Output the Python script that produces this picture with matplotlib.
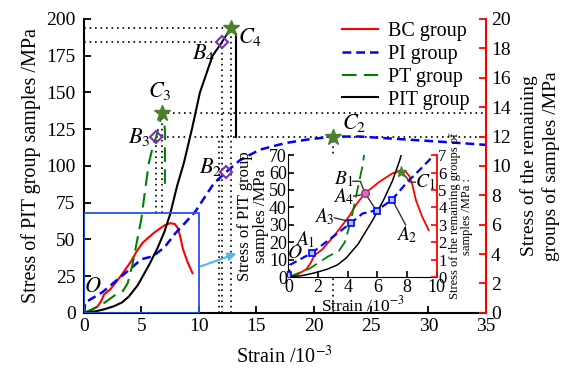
import numpy as np
import matplotlib
matplotlib.use('Agg')
import matplotlib.pyplot as plt
from matplotlib.patches import Rectangle

plt.rcParams['font.family'] = ['Liberation Serif', 'DejaVu Serif']
plt.rcParams['mathtext.fontset'] = 'stix'

# curves, all in PIT-axis units (MPa, remaining groups x10)
bc_x = [0, 0.6, 1.2, 1.5, 1.75, 2.3, 3.2, 4.1, 4.6, 5.15, 6.1, 7.0, 7.5, 7.9, 8.15, 8.35, 8.6, 9.0, 9.45]
bc_y = [0, 1.5, 4.5, 8, 12.5, 16, 25, 35, 42, 48, 54.5, 59.5, 61, 60.5, 58, 53, 44, 35, 27]

pi_x = [0, 0.05, 0.1, 1.6, 2.9, 4.2, 5.0, 6.0, 7.0, 8.0, 8.9, 9.7, 11.3, 12.4, 13.6, 15.3,
        17.5, 19.5, 21.7, 24, 27, 30, 32.7, 35]
pi_y = [0, 2, 7, 14, 22.5, 31, 36.5, 38.5, 44.5, 54.5, 62, 69, 88, 96, 104, 111,
        115.5, 118, 120, 120, 118.5, 117, 115.6, 114.3]

pt_x = [0, 1.45, 2.7, 3.4, 3.8, 4.2, 4.6, 5.0, 5.3, 5.65, 6.0, 6.3, 6.8, 7.0, 7.05, 7.05]
pt_y = [0, 5, 12, 15, 20, 32, 48, 64, 82, 102, 113, 120, 136, 128, 125, 84]

pit_x = [0, 1, 1.8, 2.6, 3.3, 3.9, 4.7, 5.7, 6.4, 7.0, 7.5, 8.1, 8.7, 9.4, 10.1, 11.2, 12.0, 12.8]
pit_y = [0, 1, 2.5, 4.5, 7, 11, 19, 33, 44, 55, 67, 86, 102, 125, 150, 175, 184, 194]
pit_drop_x = [13.2, 13.2]
pit_drop_y = [190, 120]

# feature points
C4 = (12.8, 194); B4 = (12.0, 184)
C3 = (6.8, 136); B3 = (6.3, 120)
B2 = (12.4, 96); C2 = (21.7, 120)

# inset points
sq_x = [0, 1.62, 4.2, 5.98, 7.0]
sq_y = [1.1, 14, 30.8, 37.9, 44.2]
A4 = (5.15, 48.3)
C1 = (7.62, 60.5)

red = '#ff0000'
blue = '#0000ff'
green = '#008000'
star_c = '#4d7f2e'
purple = '#7b2fb5'

fig = plt.figure(figsize=(5.71, 3.72), dpi=100)
ax = fig.add_axes([0.147, 0.159, 0.704, 0.790])

dot = dict(color='black', lw=1.2, dashes=(1, 2.3))
# dotted guide lines
ax.plot([0, C4[0]], [C4[1], C4[1]], **dot)
ax.plot([0, B4[0]], [B4[1], B4[1]], **dot)
ax.plot([C3[0], 35], [C3[1], C3[1]], **dot)
ax.plot([B3[0], 35], [B3[1], B3[1]], **dot)
ax.plot([C4[0], C4[0]], [0, C4[1]], **dot)
ax.plot([B4[0], B4[0]], [0, B4[1]], **dot)
ax.plot([11.8, 11.8], [0, 120], **dot)
ax.plot([B3[0], B3[0]], [68, B3[1]], **dot)
ax.plot([C3[0], C3[0]], [68, C3[1]], **dot)
ax.plot([C2[0], C2[0]], [0, C2[1]], **dot)

ax.plot(bc_x, bc_y, color=red, lw=1.5, label='BC group')
ax.plot(pi_x, pi_y, color=blue, lw=1.8, dashes=(3.5, 2.0), label='PI group')
ax.plot(pt_x, pt_y, color=green, lw=1.5, dashes=(7, 3.5), label='PT group')
ax.plot(pit_x, pit_y, color='black', lw=1.5, label='PIT group')
ax.plot(pit_drop_x, pit_drop_y, color='black', lw=1.5)

for p in [C4, C3, C2]:
    ax.plot(*p, marker='*', ms=12, color=star_c, mec=star_c, zorder=5)
for p in [B4, B3, B2]:
    ax.plot(*p, marker='D', ms=6.5, mfc='none', mec=purple, mew=1.5, zorder=5)

lab = dict(fontsize=16, ha='center', va='center')
ax.text(14.5, 188, r'$C_4$', **lab)
ax.text(10.4, 177, r'$B_4$', **lab)
ax.text(6.6, 151, r'$C_3$', **lab)
ax.text(4.8, 120, r'$B_3$', **lab)
ax.text(11.0, 99, r'$B_2$', **lab)
ax.text(23.5, 129, r'$C_2$', **lab)
ax.text(0.8, 17, r'$O$', **lab)

ax.add_patch(Rectangle((0, 0), 10, 68, fill=False, ec='#2a50e8', lw=1.3, zorder=6))
ax.annotate('', xy=(13.5, 41), xytext=(9.95, 31),
            arrowprops=dict(arrowstyle='-|>', color='#55b4f2', lw=1.5, mutation_scale=12))

ax.set_xlim(0, 35)
ax.set_ylim(0, 200)
ax.set_xticks(np.arange(0, 36, 5))
ax.set_yticks(np.arange(0, 201, 25))
ax.tick_params(direction='in', labelsize=14, length=5, width=1.3)
ax.tick_params(axis='y', pad=6)
ax.spines['top'].set_visible(False)
ax.spines['right'].set_visible(False)
for s in ['left', 'bottom']:
    ax.spines[s].set_linewidth(1.5)
ax.set_xlabel('Strain /10$^{-3}$', fontsize=14.5, labelpad=8)
ax.set_ylabel('Stress of PIT group samples /MPa', fontsize=14.5, labelpad=4)

ax.legend(loc='upper right', bbox_to_anchor=(0.99, 1.03), frameon=False, fontsize=14.5,
          handlelength=1.8, handletextpad=0.5, labelspacing=0.18, borderaxespad=0.2)

axr = ax.twinx()
axr.set_ylim(0, 20)
axr.set_yticks(np.arange(0, 21, 2))
axr.tick_params(direction='in', labelsize=14, length=5, width=1.3, color=red)
for s in ['top', 'left', 'bottom']:
    axr.spines[s].set_visible(False)
axr.spines['right'].set_color(red)
axr.spines['right'].set_linewidth(1.5)
axr.set_ylabel('Stress of the remaining\ngroups of samples /MPa', fontsize=14, labelpad=7,
               linespacing=1.3)

# inset
ins = fig.add_axes([0.505, 0.255, 0.260, 0.328])
ins.set_zorder(10)
ins.set_facecolor('white')
ins.plot(bc_x, bc_y, color=red, lw=1.3)
ins.plot(pi_x, pi_y, color=blue, lw=1.6, dashes=(3.5, 2.0))
ins.plot(pt_x, pt_y, color=green, lw=1.3, dashes=(7, 3.5))
ins.plot(pit_x, pit_y, color='black', lw=1.1)
ins.plot(sq_x, sq_y, ls='none', marker='s', ms=5, mfc='#b0c8ff', mec=blue, mew=1.2, zorder=5)
ins.plot(*A4, marker='o', ms=5.5, mfc='#d070b0', mec='#a0308a', mew=1, zorder=5)
ins.plot(*C1, marker='*', ms=8, color=star_c, zorder=5)

lead = dict(color='#333333', lw=1)
ins.plot([3.1, 4.1], [34, 32], **lead)
ins.plot([4.4, 5.15], [46.5, 47.5], **lead)
ins.plot([4.35, 4.85, 5.15], [55, 55, 48.3], **lead)
ins.plot([5.15, 5.95], [48.3, 38], **lead)
ins.plot([7.9, 7.05], [30, 43.5], **lead)
ins.plot([7.7, 8.2, 8.55], [59.8, 54.5, 54.5], **lead)

il = dict(fontsize=14, ha='center', va='center')
ins.text(0.45, 13.5, r'$O$', **il)
ins.text(1.1, 21.5, r'$A_1$', **il)
ins.text(2.4, 34.5, r'$A_3$', **il)
ins.text(3.7, 46, r'$A_4$', **il)
ins.text(3.75, 56, r'$B_1$', **il)
ins.text(8.0, 24.5, r'$A_2$', **il)
ins.text(9.25, 54.5, r'$C_1$', **il)

ins.set_xlim(0, 10)
ins.set_ylim(0, 70)
ins.set_xticks(np.arange(0, 11, 2))
ins.set_yticks(np.arange(0, 71, 10))
ins.tick_params(direction='in', labelsize=13, length=4, width=1.2, pad=1)
ins.spines['top'].set_visible(False)
ins.spines['right'].set_visible(False)
ins.set_xlabel('Strain /10$^{-3}$', fontsize=12.5, labelpad=0)
ins.set_ylabel('Stress of PIT group\nsamples /MPa', fontsize=12, labelpad=0, linespacing=1.0)

insr = ins.twinx()
insr.set_ylim(0, 7)
insr.set_yticks(np.arange(0, 8, 1))
insr.tick_params(direction='in', labelsize=12, length=4, width=1.2, color=red, pad=1)
for s in ['top', 'left', 'bottom']:
    insr.spines[s].set_visible(False)
insr.spines['right'].set_color(red)
insr.spines['right'].set_linewidth(1.3)
insr.set_ylabel('Stress of the remaining groups of\nsamples /MPa :', fontsize=9, labelpad=2,
                linespacing=1.0)

fig.savefig('out.png', dpi=100)
